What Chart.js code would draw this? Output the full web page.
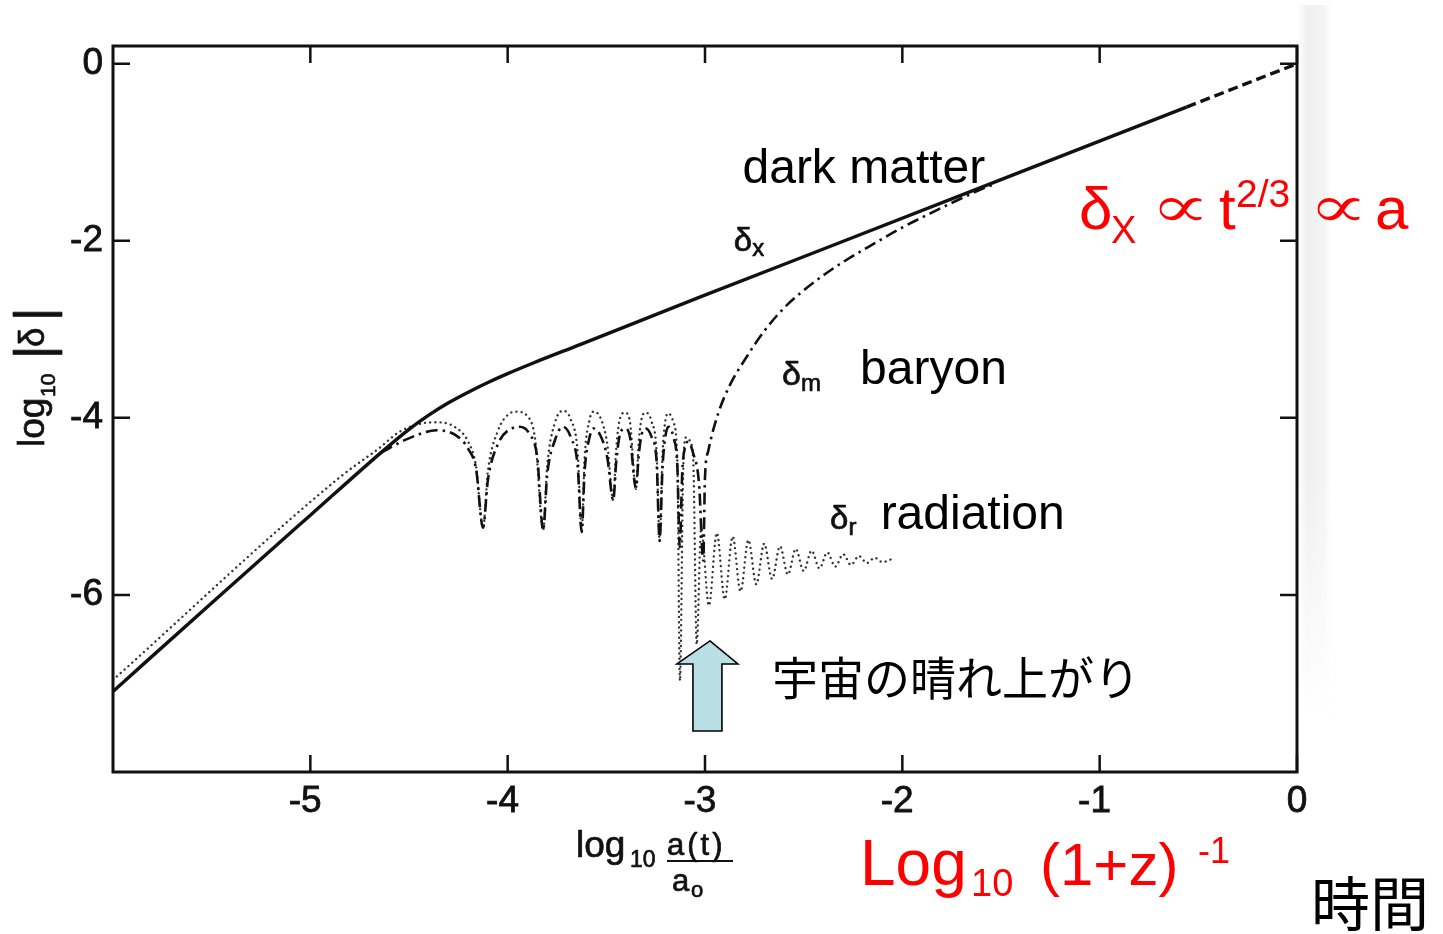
<!DOCTYPE html>
<html lang="ja">
<head>
<meta charset="utf-8">
<title>密度揺らぎの成長</title>
<script src="https://cdn.jsdelivr.net/npm/chart.js@4.4.1/dist/chart.umd.min.js"></script>
<style>
html, body { margin: 0; padding: 0; background: #fff; }
canvas { display: block; }
</style>
</head>
<body>
<canvas id="chart" width="1443" height="934"></canvas>
<script>
// x: log10 a(t)/a0, y: log10|delta|

// dark matter, solid part
const darkX = [-6.0, -5.5, -5.0, -4.63, -4.50, -4.40, -4.30, -4.20, -4.10, -4.00, -3.87, -3.63, -3.03, -2.27, -1.50, -0.56];
const darkY = [-7.09, -6.09, -5.10, -4.37, -4.13, -3.97, -3.83, -3.71, -3.60, -3.50, -3.38, -3.17, -2.64, -1.98, -1.31, -0.49];

// dark matter, dashed continuation to today
const darkTailX = [-0.56, 0.0];
const darkTailY = [-0.49, 0.0];

// baryons (dash-dot)
const baryonX = [-4.64, -4.51, -4.36, -4.26, -4.20, -4.16, -4.125,
  -4.10, -4.05, -3.97, -3.94, -3.89, -3.85, -3.82,
  -3.80, -3.76, -3.72, -3.68, -3.645, -3.625,
  -3.61, -3.585, -3.565, -3.53, -3.495, -3.465,
  -3.45, -3.43, -3.405, -3.38, -3.35,
  -3.335, -3.32, -3.30, -3.27, -3.245, -3.23,
  -3.215, -3.20, -3.185, -3.16, -3.14, -3.128,
  -3.115, -3.10, -3.085, -3.06, -3.03, -3.009,
  -3.0, -2.983, -2.933, -2.874, -2.80, -2.70, -2.60, -2.50, -2.40, -2.30, -2.15, -2.00, -1.84, -1.70, -1.58, -1.53];
const baryonY = [-4.39, -4.24, -4.14, -4.20, -4.35, -4.58, -5.24,
  -4.70, -4.30, -4.11, -4.10, -4.18, -4.45, -5.27,
  -4.65, -4.25, -4.10, -4.22, -4.55, -5.29,
  -4.60, -4.22, -4.12, -4.20, -4.45, -4.93,
  -4.50, -4.18, -4.12, -4.22, -4.80,
  -4.40, -4.18, -4.12, -4.22, -4.50, -5.39,
  -4.55, -4.20, -4.10, -4.22, -4.55, -5.46,
  -4.60, -4.32, -4.27, -4.40, -4.75, -5.61,
  -4.67, -4.37, -3.95, -3.63, -3.35, -3.02, -2.76, -2.56, -2.39, -2.24, -2.04, -1.85, -1.67, -1.52, -1.40, -1.36];

// radiation (dotted)
const radiationX = [-6.0, -4.85, -4.65, -4.55, -4.45, -4.36, -4.27, -4.20, -4.16, -4.125,
  -4.10, -4.05, -3.99, -3.955, -3.90, -3.86, -3.82,
  -3.80, -3.76, -3.72, -3.68, -3.645, -3.625,
  -3.61, -3.585, -3.565, -3.53, -3.495, -3.465,
  -3.45, -3.43, -3.405, -3.38, -3.35,
  -3.335, -3.32, -3.30, -3.27, -3.245, -3.23,
  -3.215, -3.20, -3.185, -3.16, -3.14, -3.127,
  -3.11, -3.095, -3.08, -3.06, -3.042,
  -3.02, -2.98, -2.94, -2.90, -2.86, -2.82, -2.78, -2.74, -2.70, -2.66, -2.62, -2.58,
  -2.54, -2.50, -2.46, -2.42, -2.38, -2.34, -2.30, -2.26, -2.22, -2.18, -2.14, -2.10, -2.06];
const radiationY = [-6.96, -4.67, -4.34, -4.16, -4.07, -4.05, -4.10, -4.27, -4.55, -5.24,
  -4.60, -4.15, -3.95, -3.93, -3.98, -4.25, -5.27,
  -4.55, -4.05, -3.92, -4.02, -4.40, -5.29,
  -4.45, -4.02, -3.93, -4.00, -4.30, -4.93,
  -4.35, -4.00, -3.94, -4.05, -4.80,
  -4.25, -4.00, -3.94, -4.05, -4.40, -5.39,
  -4.40, -4.02, -3.95, -4.05, -4.50, -6.97,
  -4.55, -4.22, -4.25, -4.45, -6.56,
  -5.25, -6.12, -5.30, -6.05, -5.34, -5.96, -5.38, -5.88, -5.42, -5.82, -5.45, -5.77,
  -5.48, -5.73, -5.50, -5.70, -5.52, -5.68, -5.54, -5.66, -5.56, -5.64, -5.58, -5.63, -5.60];

const xTickValues = [-5, -4, -3, -2, -1, 0];
const yTickValues = [0, -2, -4, -6];

const FONT = '"Liberation Sans", Arial, Helvetica, sans-serif';
const CJK = '"Noto Sans CJK JP", "Noto Sans CJK SC", sans-serif';
const INK = '#111';
const RED = '#ff0000';

function points(xs, ys) {
  return xs.map((x, i) => ({ x, y: ys[i] }));
}

function text(ctx, str, px, py, size, opt = {}) {
  ctx.save();
  ctx.font = `${opt.weight || 'normal'} ${size}px ${opt.family || FONT}`;
  ctx.fillStyle = opt.color || INK;
  ctx.textAlign = opt.align || 'left';
  ctx.textBaseline = opt.baseline || 'alphabetic';
  if (opt.spacing) ctx.letterSpacing = opt.spacing;
  ctx.translate(px, py);
  if (opt.scaleX) ctx.scale(opt.scaleX, 1);
  ctx.fillText(str, 0, 0);
  if (opt.heavy) {
    ctx.strokeStyle = opt.color || INK;
    ctx.lineWidth = opt.heavy;
    ctx.lineJoin = 'round';
    ctx.strokeText(str, 0, 0);
  }
  const w = ctx.measureText(str).width * (opt.scaleX || 1);
  ctx.restore();
  return w;
}

// faint shadow of the page edge on the right of the frame
const pageEdge = {
  id: 'pageEdge',
  beforeDraw(chart) {
    const { ctx, chartArea: a } = chart;
    ctx.save();
    const gx = ctx.createLinearGradient(a.right, 0, a.right + 36, 0);
    gx.addColorStop(0, 'rgba(200,200,200,0)');
    gx.addColorStop(0.3, 'rgba(200,200,200,0.28)');
    gx.addColorStop(0.75, 'rgba(205,205,205,0.22)');
    gx.addColorStop(1, 'rgba(225,225,225,0)');
    ctx.fillStyle = gx;
    ctx.fillRect(a.right, 5, 36, 715);
    // fade toward the bottom
    const gy = ctx.createLinearGradient(0, 480, 0, 720);
    gy.addColorStop(0, 'rgba(255,255,255,0)');
    gy.addColorStop(1, 'rgba(255,255,255,1)');
    ctx.fillStyle = gy;
    ctx.fillRect(a.right + 2, 480, 36, 242);
    ctx.restore();
  }
};

// frame, inward ticks, labels and notes
const decorations = {
  id: 'decorations',
  afterDraw(chart) {
    const { ctx, chartArea: a, scales: { x, y } } = chart;
    ctx.save();
    ctx.strokeStyle = INK;
    ctx.lineWidth = 3;
    ctx.strokeRect(a.left, a.top, a.right - a.left, a.bottom - a.top);
    ctx.lineWidth = 2.5;
    ctx.beginPath();
    xTickValues.forEach(v => {
      const px = x.getPixelForValue(v);
      ctx.moveTo(px, a.bottom); ctx.lineTo(px, a.bottom - 17);
      ctx.moveTo(px, a.top); ctx.lineTo(px, a.top + 17);
    });
    yTickValues.forEach(v => {
      const py = y.getPixelForValue(v);
      ctx.moveTo(a.left, py); ctx.lineTo(a.left + 17, py);
      ctx.moveTo(a.right, py); ctx.lineTo(a.right - 17, py);
    });
    ctx.stroke();
    ctx.restore();

    const X = v => x.getPixelForValue(v);
    const Y = v => y.getPixelForValue(v);
    const scan = { heavy: 0.7 };

    // curve labels
    text(ctx, 'dark matter', X(-2.81), Y(-1.35), 48, { color: '#000' });
    let w = text(ctx, 'δ', X(-2.854), Y(-2.11), 33, scan);
    text(ctx, 'x', X(-2.854) + w, Y(-2.11) + 5, 24, scan);
    w = text(ctx, 'δ', X(-2.61), Y(-3.63), 34, scan);
    text(ctx, 'm', X(-2.61) + w, Y(-3.63) + 6, 24, scan);
    text(ctx, 'baryon', X(-2.214), Y(-3.62), 48, { color: '#000' });
    w = text(ctx, 'δ', X(-2.366), Y(-5.25), 33, scan);
    text(ctx, 'r', X(-2.366) + w, Y(-5.25) + 6, 24, scan);
    text(ctx, 'radiation', X(-2.11), Y(-5.25), 48, { color: '#000' });

    // decoupling marker
    const tx = X(-2.975), ty = Y(-6.52);
    ctx.save();
    ctx.beginPath();
    ctx.moveTo(tx, ty);
    ctx.lineTo(tx + 28, ty + 23);
    ctx.lineTo(tx + 12, ty + 23);
    ctx.lineTo(tx + 12, ty + 90);
    ctx.lineTo(tx - 17, ty + 90);
    ctx.lineTo(tx - 17, ty + 23);
    ctx.lineTo(tx - 33, ty + 23);
    ctx.closePath();
    ctx.fillStyle = '#b9dfe4';
    ctx.fill();
    ctx.strokeStyle = '#000';
    ctx.lineWidth = 1.6;
    ctx.stroke();
    ctx.restore();
    text(ctx, '宇宙の晴れ上がり', 772, 678, 46, { family: CJK, baseline: 'middle', color: '#000' });

    // growth law
    text(ctx, 'δ', 1079, 229, 60, { color: RED });
    text(ctx, 'X', 1111, 243, 38, { color: RED });
    text(ctx, '∝', 1140, 227, 60, { color: RED, scaleX: 1.35 });
    text(ctx, 't', 1219, 229, 60, { color: RED });
    text(ctx, '2/3', 1236, 207, 39, { color: RED });
    text(ctx, '∝', 1298, 227, 60, { color: RED, scaleX: 1.35 });
    text(ctx, 'a', 1375, 229, 60, { color: RED });

    // redshift form of the x axis
    text(ctx, 'Log', 860, 885, 64, { color: RED });
    text(ctx, '10', 971, 896, 38, { color: RED });
    text(ctx, '(1+z)', 1040, 885, 60, { color: RED });
    text(ctx, '-1', 1198, 863, 36, { color: RED });
    text(ctx, '時間', 1311, 904, 59, { family: CJK, baseline: 'middle', color: '#000' });

    // x axis title
    text(ctx, 'log', 576, 857, 37, scan);
    text(ctx, '10', 630, 867, 23, scan);
    text(ctx, 'a(t)', 667, 855, 31, { spacing: '3px', heavy: 0.7 });
    ctx.save();
    ctx.strokeStyle = INK;
    ctx.lineWidth = 2;
    ctx.beginPath();
    ctx.moveTo(667, 861); ctx.lineTo(733, 861);
    ctx.stroke();
    ctx.restore();
    text(ctx, 'a', 672, 891, 31, scan);
    text(ctx, 'o', 691, 897, 22, scan);

    // y axis title, reading upward
    ctx.save();
    ctx.translate(44, 447);
    ctx.rotate(-Math.PI / 2);
    text(ctx, 'log', 0, 0, 37, scan);
    text(ctx, '10', 50, 11, 21, scan);
    text(ctx, '|', 88, 7, 52, scan);
    text(ctx, 'δ', 100, 0, 35, scan);
    text(ctx, '|', 126, 7, 52, scan);
    ctx.restore();
  }
};

const tickFont = { family: FONT, size: 37 };

new Chart(document.getElementById('chart'), {
  type: 'scatter',
  data: {
    datasets: [
      {
        label: 'δx dark matter',
        data: points(darkX, darkY),
        borderColor: INK,
        borderWidth: 3.4,
        cubicInterpolationMode: 'monotone'
      },
      {
        label: 'δx dark matter (later)',
        data: points(darkTailX, darkTailY),
        borderColor: INK,
        borderWidth: 3.4,
        borderDash: [10, 5]
      },
      {
        label: 'δm baryon',
        data: points(baryonX, baryonY),
        borderColor: INK,
        borderWidth: 2.6,
        borderDash: [12, 5, 2.5, 5],
        cubicInterpolationMode: 'monotone'
      },
      {
        label: 'δr radiation',
        data: points(radiationX, radiationY),
        borderColor: '#333',
        borderWidth: 2.4,
        borderDash: [0.01, 5.2],
        borderCapStyle: 'round',
        cubicInterpolationMode: 'monotone'
      }
    ]
  },
  options: {
    responsive: false,
    devicePixelRatio: 1,
    animation: false,
    showLine: true,
    elements: { point: { radius: 0, hoverRadius: 0 } },
    layout: { padding: { top: 46, right: 146, left: 0, bottom: 0 } },
    plugins: { legend: { display: false }, tooltip: { enabled: false } },
    scales: {
      x: {
        type: 'linear',
        min: -6,
        max: 0,
        afterBuildTicks: s => { s.ticks = xTickValues.map(v => ({ value: v })); },
        afterFit: s => { s.height = 162; },
        grid: { display: false, drawTicks: false },
        border: { display: false },
        ticks: {
          font: tickFont,
          color: INK,
          textStrokeColor: INK,
          textStrokeWidth: 0.8,
          padding: 8,
          maxRotation: 0,
          autoSkip: false,
          callback: v => (v < 0 ? v + ' ' : String(v))
        }
      },
      y: {
        type: 'linear',
        min: -8,
        max: 0.2,
        afterBuildTicks: s => { s.ticks = yTickValues.map(v => ({ value: v })); },
        afterFit: s => { s.width = 113; },
        grid: { display: false, drawTicks: false },
        border: { display: false },
        ticks: {
          font: tickFont,
          color: INK,
          textStrokeColor: INK,
          textStrokeWidth: 0.8,
          padding: 10,
          autoSkip: false,
          callback: v => String(v)
        }
      }
    }
  },
  plugins: [pageEdge, decorations]
});
</script>
</body>
</html>
